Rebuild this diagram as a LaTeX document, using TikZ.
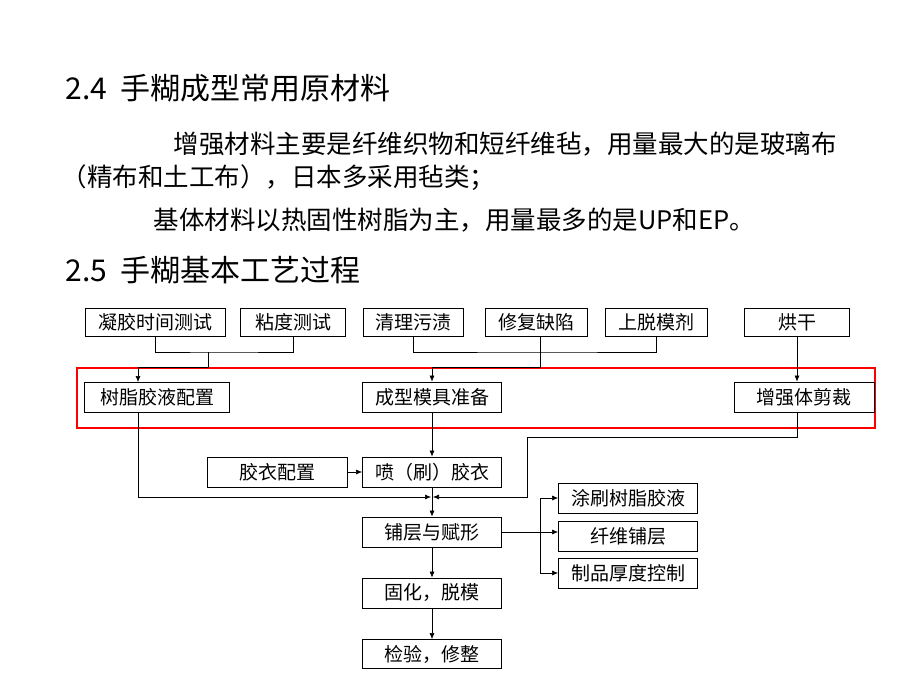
\documentclass[tikz,border=0pt]{standalone}
\usepackage{fontspec}
\setmainfont{Noto Sans CJK SC}
\usetikzlibrary{arrows.meta}
\tikzset{
  box/.style={draw=black, line width=0.8pt, inner sep=0pt, font=\fontsize{19}{19}\selectfont},
  flow/.style={line width=0.6pt, -{Latex[length=6pt,width=5pt]}},
  link/.style={line width=0.6pt}
}
\begin{document}
\begin{tikzpicture}[x=1pt, y=-1pt]
\useasboundingbox (0,0) rectangle (920,690);
% headings and text
\node[anchor=west, font=\fontsize{30}{30}\selectfont] (h1) at (62,88) {2.4\ \ 手糊成型常用原材料};
\node[anchor=west, font=\fontsize{25.5}{25.5}\selectfont] (p1) at (170,144) {增强材料主要是纤维织物和短纤维毡，用量最大的是玻璃布};
\node[anchor=west, font=\fontsize{25.5}{25.5}\selectfont] (p2) at (58,178) {（精布和土工布），日本多采用毡类；};
\node[anchor=west, font=\fontsize{25.5}{25.5}\selectfont] (p3) at (150,220) {基体材料以热固性树脂为主，用量最多的是UP和EP。};
\node[anchor=west, font=\fontsize{30}{30}\selectfont] (h2) at (62,270) {2.5\ \ 手糊基本工艺过程};
% top row
\node[box, minimum width=140pt, minimum height=28pt] (gel) at (155,322) {凝胶时间测试};
\node[box, minimum width=105pt, minimum height=28pt] (visc) at (293,322) {粘度测试};
\node[box, minimum width=100pt, minimum height=28pt] (clean) at (413,322) {清理污渍};
\node[box, minimum width=102pt, minimum height=28pt] (repair) at (536,322) {修复缺陷};
\node[box, minimum width=102pt, minimum height=28pt] (release) at (656,322) {上脱模剂};
\node[box, minimum width=105pt, minimum height=28pt] (dry) at (797,322) {烘干};
% red frame
\draw[red, line width=1.6pt] (77,368) rectangle (875,428);
\node[box, minimum width=145pt, minimum height=30pt] (resin) at (157,397) {树脂胶液配置};
\node[box, minimum width=139pt, minimum height=30pt] (mould) at (432,397) {成型模具准备};
\node[box, minimum width=140pt, minimum height=30pt] (cut) at (804,397) {增强体剪裁};
% main column
\node[box, minimum width=140pt, minimum height=30pt] (gelcoat) at (277,472) {胶衣配置};
\node[box, minimum width=139pt, minimum height=30pt] (spray) at (432,472) {喷（刷）胶衣};
\coordinate (merge) at (432,497);
\node[box, minimum width=139pt, minimum height=30pt] (layup) at (432,532) {铺层与赋形};
\node[box, minimum width=139pt, minimum height=30pt] (cure) at (432,593) {固化，脱模};
\node[box, minimum width=139pt, minimum height=29pt] (check) at (432,654) {检验，修整};
% side column
\node[box, minimum width=139pt, minimum height=30pt] (coat) at (628,498) {涂刷树脂胶液};
\node[box, minimum width=139pt, minimum height=30pt] (fibre) at (628,536) {纤维铺层};
\node[box, minimum width=139pt, minimum height=30pt] (thick) at (628,573) {制品厚度控制};
% connectors
\draw[link] (gel.south) |- (224,352) -| (visc.south);
\draw[flow] (208,352) |- (138,367) -- (138,382);
\draw[link] (clean.south) |- (540,352) -| (release.south);
\draw[flow] (540,336) |- (432,367) -- (mould.north);
\draw[flow] (dry.south) -- (dry.south |- cut.north);
\draw[flow] (mould) -- (spray);
\draw[flow] (gelcoat) -- (spray);
\draw[flow] (138,412) |- ([xshift=-1pt]merge);
\draw[flow] (797,412) |- (527,437) |- ([xshift=1pt]merge);
\draw[flow] (spray) -- (layup);
\draw[link] (layup.east) -- (540,532);
\draw[flow] (540,532) |- (coat.west);
\draw[flow] (540,532) -- (fibre.west |- 540,532);
\draw[flow] (540,532) |- (thick.west);
\draw[flow] (layup) -- (cure);
\draw[flow] (cure) -- (check);
\end{tikzpicture}
\end{document}
